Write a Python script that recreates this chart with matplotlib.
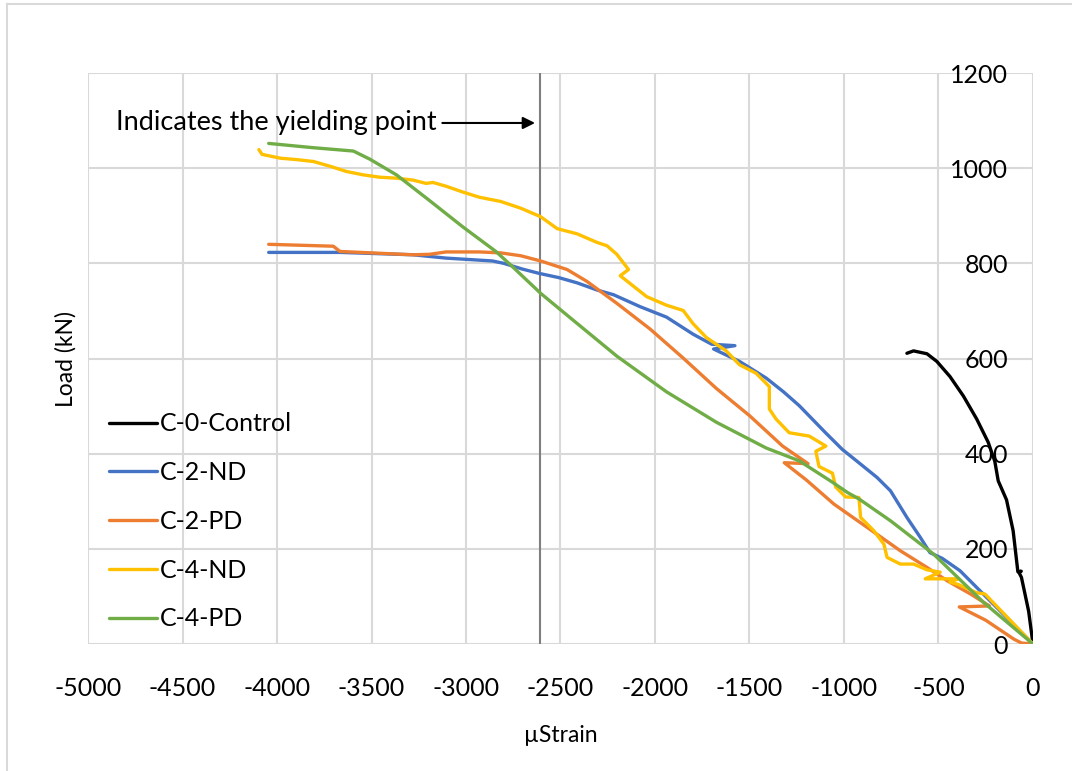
import matplotlib.pyplot as plt
from matplotlib.lines import Line2D

plt.rcParams['font.family'] = ['Lato', 'DejaVu Sans']
plt.rcParams['axes.unicode_minus'] = False

# load-strain records, listed from the origin outwards
ctrl_x = [0, -23, -61, -75, -62, -80, -105, -140, -184, -202, -237, -298, -368, -439, -509, -561, -632, -667]
ctrl_y = [0, 69, 140, 151, 153, 152, 238, 303, 343, 384, 424, 473, 521, 562, 594, 610, 616, 611]

nd2_x = [0, -175, -263, -386, -480, -545, -596, -667, -754, -825, -912, -1009, -1100, -1237, -1320,
         -1412, -1553, -1690, -1577, -1700, -1798, -1939, -2079, -2219, -2307, -2412, -2509, -2614,
         -2702, -2800, -2860, -3105, -3281, -3667, -4044]
nd2_y = [0, 70, 105, 154, 180, 192, 224, 266, 322, 350, 378, 409, 445, 501, 530,
         559, 594, 620, 627, 630, 651, 687, 709, 734, 744, 759, 770, 779,
         788, 800, 805, 811, 818, 823, 823]

pd2_x = [0, -60, -100, -250, -390, -230, -330, -450, -561, -702, -877, -1053, -1200, -1316, -1190,
         -1325, -1500, -1675, -1851, -2026, -2202, -2360, -2465, -2605, -2711, -2816, -2930, -3105,
         -3193, -3281, -3667, -3702, -4044]
pd2_y = [0, 2, 10, 50, 78, 80, 105, 132, 161, 196, 245, 294, 345, 381, 379,
         416, 480, 537, 601, 662, 716, 762, 787, 805, 816, 822, 824, 824,
         819, 818, 825, 836, 840]

nd4_x = [0, -254, -300, -395, -440, -395, -570, -491, -561, -632, -702, -772, -789, -842, -912, -921,
         -991, -1044, -1061, -1132, -1149, -1096, -1184, -1290, -1360, -1395, -1395, -1465, -1553,
         -1623, -1728, -1798, -1851, -1939, -2044, -2184, -2140, -2202, -2254, -2307, -2412, -2518,
         -2605, -2711, -2816, -2930, -3018, -3105, -3175, -3211, -3281, -3368, -3456, -3544, -3632,
         -3719, -3807, -3895, -3982, -4079, -4096]
nd4_y = [0, 105, 108, 125, 130, 137, 137, 151, 156, 168, 168, 182, 210, 238, 266, 308,
         309, 330, 359, 373, 405, 416, 437, 444, 473, 494, 541, 569, 587,
         616, 644, 673, 701, 712, 730, 774, 787, 819, 837, 844, 862, 873,
         898, 916, 930, 939, 950, 962, 970, 968, 975, 979, 981, 986, 993,
         1004, 1014, 1018, 1021, 1029, 1039]

pd4_x = [0, -263, -526, -754, -921, -980, -1061, -1237, -1412, -1675, -1939, -2202, -2465, -2605,
         -2754, -2842, -3018, -3193, -3368, -3509, -3596, -3807, -4044]
pd4_y = [0, 88, 189, 259, 305, 318, 340, 385, 412, 466, 530, 605, 691, 737,
         793, 825, 877, 932, 986, 1019, 1036, 1043, 1052]

yield_strain = -2610

series = [
    ('C-0-Control', ctrl_x, ctrl_y, 'black'),
    ('C-2-ND', nd2_x, nd2_y, '#4472C4'),
    ('C-2-PD', pd2_x, pd2_y, '#ED7D31'),
    ('C-4-ND', nd4_x, nd4_y, '#FFC000'),
    ('C-4-PD', pd4_x, pd4_y, '#70AD47'),
]

fig = plt.figure(figsize=(10.72, 7.71), dpi=100)
ax = fig.add_axes([0.0821, 0.1647, 0.8815, 0.7406])

# chart area border
fig.add_artist(Line2D([7/1072, 7/1072], [0, 1 - 4/771], color='#d9d9d9', lw=1.5))
fig.add_artist(Line2D([7/1072, 1], [1 - 4/771, 1 - 4/771], color='#d9d9d9', lw=1.5))

for name, xs, ys, col in series:
    ax.plot(xs, ys, color=col, lw=2.4, label=name, zorder=3,
            solid_joinstyle='round', solid_capstyle='round')

ax.axvline(yield_strain, color='#7f7f7f', lw=1.5, zorder=2)
ax.annotate('', xy=(yield_strain - 10, 1095), xytext=(-3140, 1095),
            arrowprops=dict(arrowstyle='-|>', color='black', lw=1.5, mutation_scale=18))
ax.text(-4852, 1095, 'Indicates the yielding point', fontsize=19.5, va='center', ha='left')

ax.set_xlim(-5000, 0)
ax.set_ylim(0, 1200)
ax.set_xticks(range(-5000, 1, 500))
ax.set_yticks(range(0, 1201, 200))
ax.grid(True, color='#d9d9d9', lw=1.5, zorder=0)
ax.set_axisbelow(True)
for s in ax.spines.values():
    s.set_visible(False)

# vertical axis sits at zero strain, labels to its left
ax.spines['left'].set_position(('data', 0))
ax.tick_params(axis='both', length=0, labelsize=18)
ax.tick_params(axis='x', pad=24)
ax.tick_params(axis='y', pad=18)

ax.set_xlabel('µStrain', fontsize=16.5, labelpad=18)
ax.set_ylabel('Load (kN)', fontsize=16.5)
ax.yaxis.set_label_coords(-0.012, 0.5)

ax.legend(loc='lower left', bbox_to_anchor=(-0.004, -0.02), frameon=False, fontsize=18,
          handlelength=1.9, handletextpad=0.12, labelspacing=1.03, borderaxespad=0.6)

fig.savefig('out.png', dpi=100)
